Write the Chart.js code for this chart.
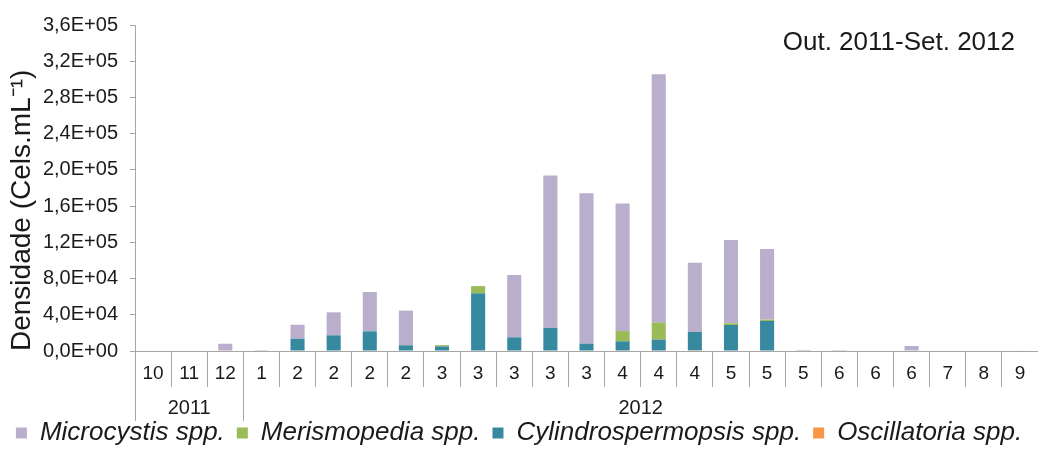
<!DOCTYPE html>
<html>
<head>
<meta charset="utf-8">
<script src="https://cdn.jsdelivr.net/npm/chart.js@4"></script>
<style>
  html, body { margin: 0; padding: 0; background: #fff; }
</style>
</head>
<body>
<canvas id="densChart" width="1038" height="450"></canvas>
<script>
// Sampling months (Out. 2011 - Set. 2012)
const months = ['10','11','12','1','2','2','2','2','3','3','3','3','3','4','4','4','5','5','5','6','6','6','7','8','9'];
const years = ['2011', '2012'];
const yearSpans = [3, 22];

// Densities (cels/mL)
const microcystis = [0,0,8000,1000,15500,25400,43400,38300,0,0,68800,168500,165900,141000,274200,76500,91900,77900,1200,1000,0,5500,0,0,600];
const merismopedia = [0,0,0,0,0,0,0,0,1500,8000,0,0,0,11300,18700,0,1900,1600,0,0,0,0,0,0,0];
const cylindrospermopsis = [0,0,0,0,13500,17300,21700,6300,5000,63700,15100,25400,8200,10700,12600,20300,28700,33100,0,0,0,0,0,0,0];
const oscillatoria = [0,0,0,0,0,0,0,0,0,0,0,0,0,0,0,700,0,0,0,0,0,0,0,0,0];

const yTicks = { min: 0, max: 360000, step: 40000 };

const FONT = '"Liberation Sans", Arial, sans-serif';
const AXIS = '#a6a6a6';
const TEXT = '#1a1a1a';

function sciLabel(v) {
  const parts = Number(v).toExponential(1).split('e');
  const exp = parseInt(parts[1], 10);
  const sign = exp < 0 ? '-' : '+';
  return parts[0].replace('.', ',') + 'E' + sign + String(Math.abs(exp)).padStart(2, '0');
}

// year row under the month labels + period note
const extras = {
  id: 'extras',
  afterDraw(chart) {
    const ctx = chart.ctx;
    const x = chart.scales.x;
    const area = chart.chartArea;
    const half = (x.getPixelForValue(1) - x.getPixelForValue(0)) / 2;
    ctx.save();
    ctx.strokeStyle = AXIS;
    ctx.lineWidth = 1;
    ctx.fillStyle = TEXT;
    ctx.font = '20px ' + FONT;
    ctx.textAlign = 'center';
    ctx.textBaseline = 'middle';
    let start = 0;
    years.forEach((yr, i) => {
      const end = start + yearSpans[i];
      const x0 = x.getPixelForValue(start) - half;
      const x1 = Math.min(x.getPixelForValue(end - 1) + half, area.right);
      ctx.beginPath();
      ctx.moveTo(Math.round(x0) + 0.5, area.bottom);
      ctx.lineTo(Math.round(x0) + 0.5, area.bottom + 70);
      ctx.stroke();
      ctx.fillText(yr, (x0 + x1) / 2, area.bottom + 57);
      start = end;
    });
    ctx.font = '26px ' + FONT;
    ctx.textAlign = 'right';
    ctx.fillText('Out. 2011-Set. 2012', area.right - 23, 43);
    ctx.restore();
  }
};

new Chart(document.getElementById('densChart'), {
  type: 'bar',
  data: {
    labels: months,
    datasets: [
      { label: 'Oscillatoria spp.', data: oscillatoria, backgroundColor: '#f79646' },
      { label: 'Cylindrospermopsis spp.', data: cylindrospermopsis, backgroundColor: '#3789a0' },
      { label: 'Merismopedia spp.', data: merismopedia, backgroundColor: '#9bbb59' },
      { label: 'Microcystis spp.', data: microcystis, backgroundColor: '#b9aecb' }
    ]
  },
  options: {
    responsive: false,
    animation: false,
    devicePixelRatio: 1,
    layout: { padding: { top: 25, right: 0, left: 0, bottom: -6 } },
    datasets: { bar: { categoryPercentage: 1, barPercentage: 0.39 } },
    plugins: {
      legend: {
        position: 'bottom',
        reverse: true,
        labels: {
          color: TEXT,
          font: { family: FONT, size: 26, style: 'italic' },
          boxWidth: 11,
          boxHeight: 11,
          padding: 12
        }
      },
      tooltip: { enabled: false }
    },
    scales: {
      x: {
        stacked: true,
        afterFit: (scale) => { scale.height = 57; },
        border: { color: AXIS },
        grid: { offset: true, drawOnChartArea: false, tickLength: 36, color: AXIS },
        ticks: { color: TEXT, font: { family: FONT, size: 19 }, padding: -25, maxRotation: 0, autoSkip: false }
      },
      y: {
        stacked: true,
        min: yTicks.min,
        max: yTicks.max,
        afterFit: (scale) => { scale.width = 135; },
        border: { color: AXIS },
        grid: { drawOnChartArea: false, tickLength: 5, color: AXIS },
        ticks: {
          stepSize: yTicks.step,
          color: TEXT,
          padding: 12,
          font: { family: FONT, size: 20 },
          callback: (v) => sciLabel(v)
        },
        title: {
          display: true,
          text: 'Densidade (Cels.mL⁻¹)',
          align: 'start',
          color: TEXT,
          font: { family: FONT, size: 28 },
          padding: { top: 5, bottom: 0 }
        }
      }
    }
  },
  plugins: [extras]
});
</script>
</body>
</html>
